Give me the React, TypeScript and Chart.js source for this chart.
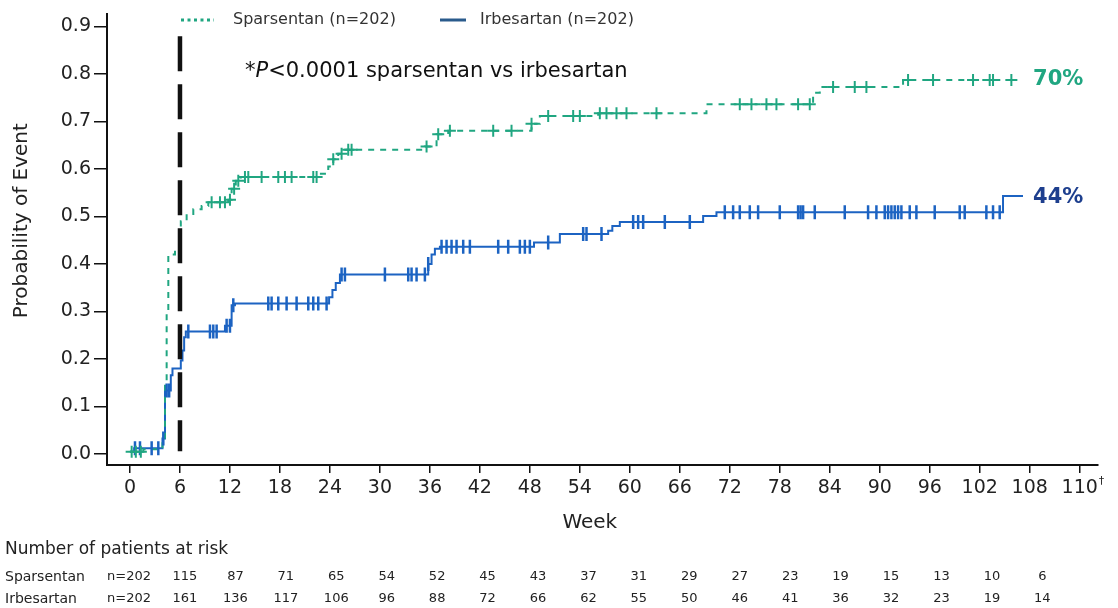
import React, { useEffect, useRef } from 'react';
import { Chart, registerables } from 'chart.js';

Chart.register(...registerables);

const FONT = '"DejaVu Sans", Verdana, sans-serif';
const GREEN = '#20a681';
const BLUE = '#1c63c2';
const NAVY = '#1e3f8e';
const LEGEND_BLUE = '#2a5b8c';
const INK = '#222222';

// X axis ticks (the last tick is drawn at the 114 position and labelled 110†)
const xTickWeeks = [0, 6, 12, 18, 24, 30, 36, 42, 48, 54, 60, 66, 72, 78, 84, 90, 96, 102, 108, 114];
const xTickLabels = ['0', '6', '12', '18', '24', '30', '36', '42', '48', '54', '60', '66', '72', '78', '84', '90', '96', '102', '108', '110'];
const yTickValues = [0, 0.1, 0.2, 0.3, 0.4, 0.5, 0.6, 0.7, 0.8, 0.9];

// Sparsentan Kaplan–Meier (cumulative probability of event)
const spWeeks = [0, 1.6, 3.9, 4.2, 4.4, 4.6, 5.4, 5.9, 6.1, 6.8, 7.6, 8.6, 9.4, 11.8, 12.2, 12.7, 13.3, 22.6, 23.8, 24.4, 25.0, 25.8, 35.4, 36.8, 38.2, 48.2, 49.2, 56.2, 69.2, 82.0, 82.8, 92.8, 106.2];
const spProb = [0.005, 0.01, 0.03, 0.15, 0.3, 0.42, 0.43, 0.47, 0.49, 0.505, 0.515, 0.522, 0.53, 0.535, 0.558, 0.575, 0.583, 0.59, 0.605, 0.62, 0.632, 0.64, 0.647, 0.673, 0.68, 0.695, 0.711, 0.717, 0.736, 0.76, 0.772, 0.787, 0.787];

// Irbesartan Kaplan–Meier
const irWeeks = [0, 0.5, 3.9, 4.2, 4.9, 5.1, 6.1, 6.3, 6.5, 6.7, 11.4, 12.2, 12.6, 23.9, 24.3, 24.7, 25.2, 35.8, 36.2, 36.6, 37.2, 48.5, 51.6, 57.4, 57.9, 58.8, 68.8, 70.4, 104.8, 107.2];
const irProb = [0.005, 0.012, 0.033, 0.134, 0.166, 0.18, 0.197, 0.218, 0.246, 0.258, 0.27, 0.313, 0.317, 0.33, 0.345, 0.36, 0.378, 0.4, 0.42, 0.432, 0.436, 0.445, 0.463, 0.47, 0.48, 0.488, 0.501, 0.509, 0.543, 0.543];

// Censoring times
const spCensorWeeks = [0.2, 0.7, 1.3, 9.8, 10.8, 11.4, 12.0, 12.5, 13.0, 13.8, 14.2, 15.8, 17.8, 18.6, 19.4, 22.0, 22.4, 24.4, 25.4, 26.2, 26.6, 35.6, 37.0, 38.4, 43.6, 45.8, 48.2, 50.2, 53.2, 54.0, 56.4, 57.2, 58.4, 59.6, 63.2, 73.2, 74.6, 76.4, 77.6, 80.2, 81.6, 84.4, 87.0, 88.4, 93.4, 96.4, 101.2, 103.2, 103.6, 105.8];
const irCensorWeeks = [0.6, 1.2, 2.6, 3.4, 4.0, 4.4, 4.7, 7.0, 9.6, 10.0, 10.4, 11.6, 12.0, 12.4, 16.6, 17.0, 17.8, 18.8, 20.0, 21.4, 22.0, 22.6, 23.6, 25.4, 25.8, 30.6, 33.4, 33.8, 34.4, 35.4, 35.8, 37.4, 38.0, 38.6, 39.2, 40.0, 40.8, 44.2, 45.4, 46.8, 47.4, 48.0, 50.2, 54.4, 54.8, 56.6, 60.4, 61.0, 61.6, 64.2, 67.2, 71.4, 72.4, 73.2, 74.4, 75.4, 78.0, 80.2, 80.5, 80.8, 82.2, 85.8, 88.6, 89.6, 90.6, 91.0, 91.4, 91.8, 92.2, 92.6, 93.6, 94.4, 96.6, 99.6, 100.2, 102.8, 103.6, 104.4];

// Week-6 reference line
const refLineWeeks = [6, 6];
const refLineProb = [0.879, 0.006];

// End labels
const spEndLabel = '70%';
const irEndLabel = '44%';
const spEndProb = 0.787;
const irEndProb = 0.54;

// Number at risk
const riskWeeks = [0, 6, 12, 18, 24, 30, 36, 42, 48, 54, 60, 66, 72, 78, 84, 90, 96, 102, 108];
const spAtRisk = ['n=202', '115', '87', '71', '65', '54', '52', '45', '43', '37', '31', '29', '27', '23', '19', '15', '13', '10', '6'];
const irAtRisk = ['n=202', '161', '136', '117', '106', '96', '88', '72', '66', '62', '55', '50', '46', '41', '36', '32', '23', '19', '14'];

function stepValue(weeks: number[], probs: number[], t: number): number {
  let v = probs[0];
  for (let i = 0; i < weeks.length; i++) {
    if (weeks[i] <= t) v = probs[i];
  }
  return v;
}

const toPoints = (xs: number[], ys: number[]) => xs.map((x, i) => ({ x, y: ys[i] }));

const overlay = {
  id: 'overlay',
  afterDraw(chart: any) {
    const { ctx } = chart;
    const x = chart.scales.x;
    const y = chart.scales.y;
    ctx.save();
    ctx.textBaseline = 'middle';

    // Legend
    ctx.strokeStyle = GREEN;
    ctx.lineWidth = 3;
    ctx.setLineDash([3, 3.5]);
    ctx.beginPath();
    ctx.moveTo(181, 20);
    ctx.lineTo(214, 20);
    ctx.stroke();
    ctx.setLineDash([]);
    ctx.strokeStyle = LEGEND_BLUE;
    ctx.beginPath();
    ctx.moveTo(440, 20);
    ctx.lineTo(466, 20);
    ctx.stroke();
    ctx.fillStyle = '#333';
    ctx.font = `16px ${FONT}`;
    ctx.textAlign = 'left';
    ctx.fillText('Sparsentan (n=202)', 233, 20);
    ctx.fillText('Irbesartan (n=202)', 480, 20);

    // Annotation
    ctx.fillStyle = '#111';
    let ax = 245;
    const ay = 72;
    ctx.font = `21px ${FONT}`;
    ctx.fillText('*', ax, ay);
    ax += ctx.measureText('*').width;
    ctx.font = `italic 21px ${FONT}`;
    ctx.fillText('P', ax, ay);
    ax += ctx.measureText('P').width;
    ctx.font = `21px ${FONT}`;
    ctx.fillText('<0.0001 sparsentan vs irbesartan', ax, ay);

    // End labels
    ctx.font = `bold 21px ${FONT}`;
    ctx.fillStyle = GREEN;
    ctx.fillText(spEndLabel, x.getPixelForValue(108.4), y.getPixelForValue(spEndProb));
    ctx.fillStyle = NAVY;
    ctx.fillText(irEndLabel, x.getPixelForValue(108.4), y.getPixelForValue(irEndProb));

    // Dagger on last tick
    ctx.fillStyle = INK;
    ctx.font = `19px ${FONT}`;
    const lastW = ctx.measureText(xTickLabels[xTickLabels.length - 1]).width;
    ctx.font = `11px ${FONT}`;
    ctx.fillText('\u2020', x.getPixelForValue(xTickWeeks[xTickWeeks.length - 1]) + lastW / 2 + 1, 481);

    // Number at risk table
    ctx.fillStyle = INK;
    ctx.textAlign = 'left';
    ctx.font = `17px ${FONT}`;
    ctx.fillText('Number of patients at risk', 5, 550);
    ctx.font = `14px ${FONT}`;
    ctx.fillText('Sparsentan', 5, 577);
    ctx.fillText('Irbesartan', 5, 599);
    ctx.textAlign = 'center';
    ctx.font = `13px ${FONT}`;
    riskWeeks.forEach((w, i) => {
      const px = x.getPixelForValue(w) + (i === 0 ? -1 : 5 + (w - 6) * 0.075);
      ctx.fillText(spAtRisk[i], px, 577);
      ctx.fillText(irAtRisk[i], px, 599);
    });
    ctx.restore();
  },
};

export default function App() {
  const ref = useRef<HTMLCanvasElement>(null);
  useEffect(() => {
    const canvas = ref.current;
    if (!canvas) return;
    const chart = new Chart(canvas, {
      type: 'line',
      data: {
        datasets: [
          {
            label: 'Week 6',
            data: toPoints(refLineWeeks, refLineProb),
            borderColor: '#111',
            borderWidth: 4.5,
            borderDash: [35, 13],
            pointRadius: 0,
            fill: false,
          },
          {
            label: 'Sparsentan censored',
            data: spCensorWeeks.map((w) => ({ x: w, y: stepValue(spWeeks, spProb, w) })),
            showLine: false,
            pointStyle: 'cross',
            pointRadius: 6,
            pointHoverRadius: 6,
            pointBorderColor: GREEN,
            pointBorderWidth: 2,
            borderColor: GREEN,
          },
          {
            label: 'Irbesartan censored',
            data: irCensorWeeks.map((w) => ({ x: w, y: stepValue(irWeeks, irProb, w) })),
            showLine: false,
            pointStyle: 'line',
            rotation: 90,
            pointRadius: 7,
            pointHoverRadius: 7,
            pointBorderColor: BLUE,
            pointBorderWidth: 2.5,
            borderColor: BLUE,
          },
          {
            label: 'Sparsentan (n=202)',
            data: toPoints(spWeeks, spProb),
            stepped: true,
            borderColor: GREEN,
            borderWidth: 2,
            borderDash: [6, 6],
            pointRadius: 0,
            fill: false,
          },
          {
            label: 'Irbesartan (n=202)',
            data: toPoints(irWeeks, irProb),
            stepped: true,
            borderColor: BLUE,
            borderWidth: 2,
            pointRadius: 0,
            fill: false,
          },
        ],
      },
      options: {
        responsive: false,
        animation: false,
        devicePixelRatio: 1,
        layout: { padding: { left: 0, top: 13, right: 20, bottom: 0 } },
        plugins: { legend: { display: false }, tooltip: { enabled: false } },
        scales: {
          x: {
            type: 'linear',
            min: -2.76,
            max: 116.2,
            afterBuildTicks: (s: any) => {
              s.ticks = xTickWeeks.map((v) => ({ value: v }));
            },
            afterFit: (s: any) => {
              s.height = 143;
            },
            ticks: {
              autoSkip: false,
              maxRotation: 0,
              padding: 4,
              color: INK,
              font: { family: FONT, size: 19 },
              callback: (v: any) => {
                const i = xTickWeeks.indexOf(Number(v));
                return i >= 0 ? xTickLabels[i] : '';
              },
            },
            grid: { display: true, drawOnChartArea: false, drawTicks: true, tickLength: 8, color: '#111', lineWidth: 1.5 },
            border: { display: true, color: '#111', width: 2 },
            title: {
              display: true,
              text: 'Week    ',
              color: INK,
              font: { family: FONT, size: 20 },
              padding: { top: 0, bottom: 73 },
            },
          },
          y: {
            type: 'linear',
            min: -0.023,
            max: 0.925,
            afterBuildTicks: (s: any) => {
              s.ticks = yTickValues.map((v) => ({ value: v }));
            },
            afterFit: (s: any) => {
              s.width = 107;
            },
            ticks: {
              padding: 3,
              color: INK,
              font: { family: FONT, size: 19 },
              callback: (v: any) => Number(v).toFixed(1),
            },
            grid: { display: true, drawOnChartArea: false, drawTicks: true, tickLength: 13, color: '#111', lineWidth: 1.5 },
            border: { display: true, color: '#111', width: 2 },
            title: {
              display: true,
              text: '      Probability of Event',
              color: INK,
              font: { family: FONT, size: 20 },
              padding: { top: 10, bottom: 0 },
            },
          },
        },
      },
      plugins: [overlay],
    } as any);
    return () => chart.destroy();
  }, []);

  return (
    <div style={{ position: 'absolute', left: 0, top: 0, width: 1118, height: 608, background: '#fff' }}>
      <canvas ref={ref} width={1118} height={608} style={{ display: 'block', width: 1118, height: 608 }} />
    </div>
  );
}
